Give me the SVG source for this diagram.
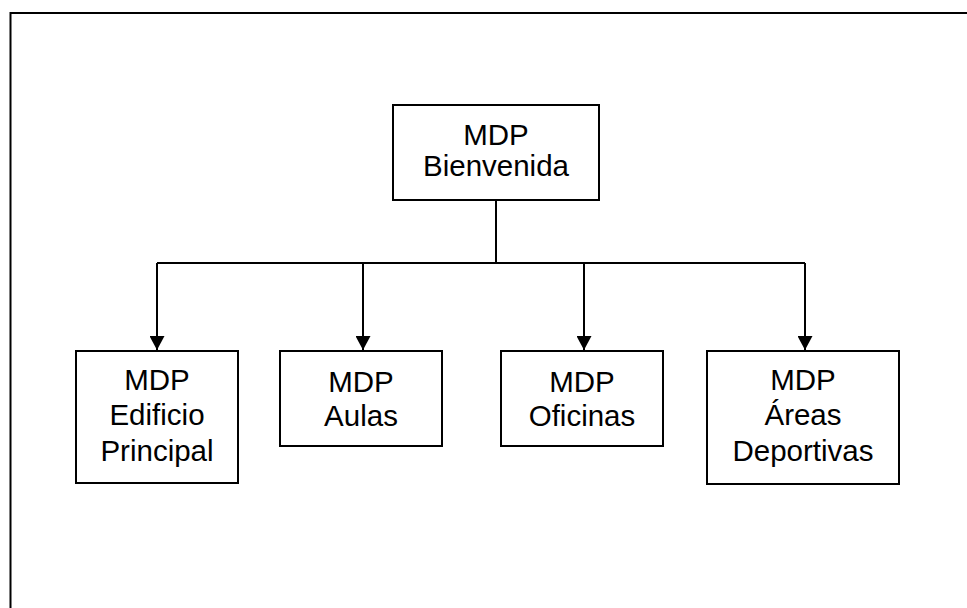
<svg xmlns="http://www.w3.org/2000/svg" width="967" height="608" viewBox="0 0 967 608">
<style>
.box{fill:#fff;stroke:#000;stroke-width:2}
.lbl{font-family:"Liberation Sans",Arial,sans-serif;font-size:29.5px;fill:#000;text-anchor:middle}
.con{fill:none;stroke:#000;stroke-width:2}
</style>
<defs>
<marker id="ah2" viewBox="0 0 14 15" refX="14" refY="7.5" markerWidth="14" markerHeight="15" markerUnits="userSpaceOnUse" orient="auto">
<path d="M0,0 L14,7.5 L0,15 z" fill="#000"/>
</marker>
</defs>
<rect width="967" height="608" fill="#fff"/>
<path d="M10.5,608 V13 H967" fill="none" stroke="#000" stroke-width="2"/>
<g id="connectors">
<path class="con" d="M496,201 V263"/>
<path class="con" d="M157,263 H805"/>
<path class="con" d="M157,263 V350" marker-end="url(#ah2)"/>
<path class="con" d="M363,263 V350" marker-end="url(#ah2)"/>
<path class="con" d="M584,263 V350" marker-end="url(#ah2)"/>
<path class="con" d="M805,263 V350" marker-end="url(#ah2)"/>
</g>
<g id="n-bienvenida">
<rect class="box" x="393" y="105" width="206" height="95"/>
<text class="lbl" x="496" y="145">MDP</text>
<text class="lbl" x="496" y="176">Bienvenida</text>
</g>
<g id="n-edificio">
<rect class="box" x="76" y="351" width="162" height="132"/>
<text class="lbl" x="157" y="390">MDP</text>
<text class="lbl" x="157" y="425">Edificio</text>
<text class="lbl" x="157" y="461">Principal</text>
</g>
<g id="n-aulas">
<rect class="box" x="280" y="351" width="162" height="95"/>
<text class="lbl" x="361" y="392">MDP</text>
<text class="lbl" x="361" y="426">Aulas</text>
</g>
<g id="n-oficinas">
<rect class="box" x="501" y="351" width="162" height="95"/>
<text class="lbl" x="582" y="392">MDP</text>
<text class="lbl" x="582" y="426">Oficinas</text>
</g>
<g id="n-areas">
<rect class="box" x="707" y="351" width="192" height="133"/>
<text class="lbl" x="803" y="390">MDP</text>
<text class="lbl" x="803" y="425">Áreas</text>
<text class="lbl" x="803" y="461">Deportivas</text>
</g>
</svg>
